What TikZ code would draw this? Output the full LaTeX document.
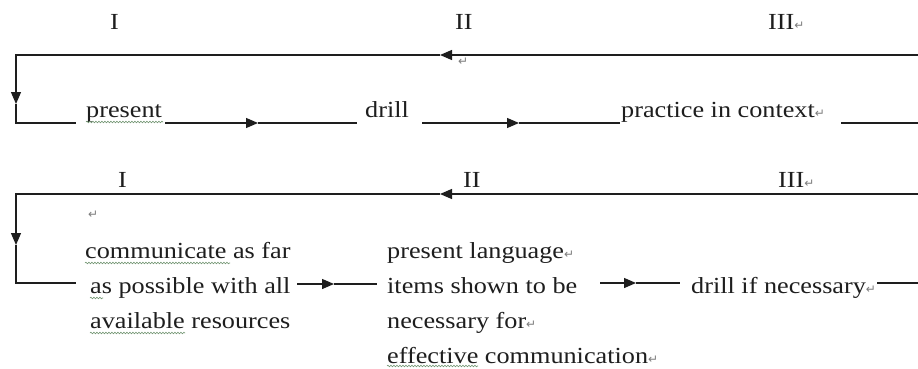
\documentclass[tikz,border=0pt]{standalone}
\usepackage{fontspec}
\setmainfont{Liberation Serif}[FakeStretch=1.14]
\newfontfamily\symf{DejaVu Sans}
\usetikzlibrary{arrows.meta,decorations.pathmorphing}
\definecolor{ink}{RGB}{30,30,30}
\definecolor{retgray}{RGB}{125,125,125}
\definecolor{squig}{RGB}{115,150,115}
\newcommand\retmark{{\symf\fontsize{12}{12}\selectfont\textcolor{retgray}{↵}}}
\begin{document}
\begin{tikzpicture}[x=1pt,y=-1pt,
  ln/.style={line width=1.3pt, draw=ink},
  tipend/.style={-{Triangle[length=12pt,width=10pt]}},
  lbl/.style={inner sep=0pt, anchor=base west, font=\fontsize{23}{35}\selectfont, text=ink},
  wav/.style={draw=squig, line width=0.6pt, decorate, decoration={snake, segment length=3pt, amplitude=0.8pt}}]
\fill[white] (0,0) rectangle (918,369);
\useasboundingbox (0,0) rectangle (918,369);

% ---------- row 1 texts ----------
\node[lbl] (rI) at (110,30) {I};
\node[lbl] (rII) at (455,30) {II};
\node[lbl] (rIII) at (768,30) {III\retmark};
\node[lbl] (rret) at (458,66) {\retmark};
\node[lbl] (present) at (86,117) {present};
\node[lbl] (drill) at (365,117) {drill};
\node[lbl] (practice) at (621,117) {practice in context\retmark};

% ---------- row 1 connectors ----------
\coordinate (atr) at (925,55);
\coordinate (ala) at (440,55);
\coordinate (atl) at (16,55);
\coordinate (ada) at (16,104);
\coordinate (abl) at (16,123);
\coordinate (aa1) at (258,123);
\coordinate (aa2) at (519,123);
\coordinate (abr) at (925,123);
\coordinate (aua) at (925,95);
\draw[ln,tipend] (atr) -- (ala);
\draw[ln,tipend] (ala) -- (atl) -- (ada);
\draw[ln] (ada) -- (abl) -- ([xshift=-10pt]present.west |- abl);
\draw[ln,tipend] ([xshift=3pt]present.east |- abl) -- (aa1);
\draw[ln] (aa1) -- ([xshift=-8pt]drill.west |- abl);
\draw[ln,tipend] ([xshift=13pt]drill.east |- abl) -- (aa2);
\draw[ln] (aa2) -- ([xshift=-1pt]practice.west |- abl);
\draw[ln,tipend] (841,123) -- (abr) -- (aua);
\draw[ln] (aua) -- (atr);

% ---------- row 2 texts ----------
\node[lbl] (sI) at (118,187) {I};
\node[lbl] (sII) at (463,187) {II};
\node[lbl] (sIII) at (778,187) {III\retmark};
\node[lbl] (sret) at (88,218) {\retmark};
\node[lbl, align=left] (comm) at (85,328) {communicate as far\\\hspace{5pt}as possible with all\\\hspace{5pt}available resources};
\node[lbl, align=left] (plang) at (387,363) {present language\retmark\\items shown to be\\necessary for\retmark\\effective communication\retmark};
\node[lbl] (drilltwo) at (691,293) {drill if necessary\retmark};

% ---------- row 2 connectors ----------
\coordinate (btr) at (925,194);
\coordinate (bla) at (440,194);
\coordinate (btl) at (16,194);
\coordinate (bda) at (16,245);
\coordinate (bbl) at (16,283);
\coordinate (bm1) at (297,284);
\coordinate (ba1) at (334,284);
\coordinate (bm2) at (377,284);
\coordinate (bm3) at (600,283);
\coordinate (ba2) at (636,283);
\coordinate (bm4) at (680,283);
\coordinate (bbr) at (925,283);
\coordinate (bua) at (925,235);
\draw[ln,tipend] (btr) -- (bla);
\draw[ln,tipend] (bla) -- (btl) -- (bda);
\draw[ln] (bda) -- (bbl) -- (76,283);
\draw[ln,tipend] (bm1) -- (ba1);
\draw[ln] (ba1) -- (bm2);
\draw[ln,tipend] (bm3) -- (ba2);
\draw[ln] (ba2) -- (bm4);
\draw[ln,tipend] ([xshift=1pt]drilltwo.east |- bbr) -- (bbr) -- (bua);
\draw[ln] (bua) -- (btr);

% ---------- spelling squiggles ----------
\draw[wav] (86,122) -- (163,122);
\draw[wav] (85,263) -- (230,263);
\draw[wav] (90,298) -- (103,298);
\draw[wav] (90,333) -- (185,333);
\draw[wav] (387,366) -- (478,366);
\end{tikzpicture}
\end{document}
